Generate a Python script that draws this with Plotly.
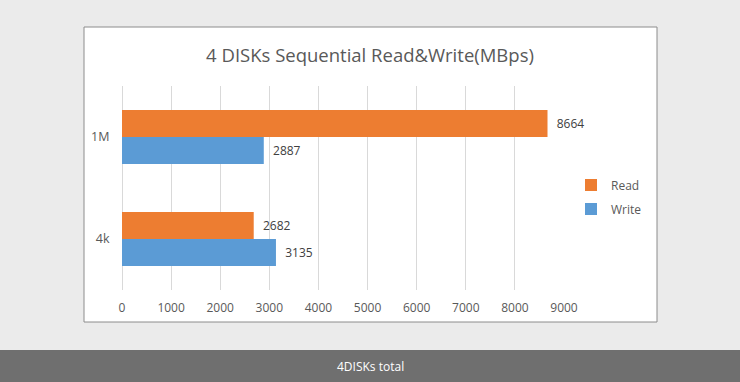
import plotly.graph_objects as go

categories = ["4k", "1M"]
read_values = [2682, 8664]
write_values = [3135, 2887]
x_ticks = [0, 1000, 2000, 3000, 4000, 5000, 6000, 7000, 8000, 9000]
title_text = "4 DISKs Sequential Read&Write(MBps)"
footer_text = "4DISKs total"

W, H = 740, 382
FONT = "Open Sans, Noto Sans, sans-serif"
GREY = "#595959"
PAD = "\u00a0\u00a0"

def px(x):
    return x / W

def py(y):
    return (H - y) / H

fig = go.Figure()
fig.add_trace(go.Bar(
    y=categories, x=write_values, name="Write", orientation="h",
    marker=dict(color="#5B9BD5", line=dict(width=0)),
    text=[PAD + str(v) for v in write_values], textposition="outside",
    textfont=dict(size=12, color="#404040", family=FONT),
    cliponaxis=False, legendrank=2, legendgroup="w",
))
fig.add_trace(go.Bar(
    y=categories, x=read_values, name="Read", orientation="h",
    marker=dict(color="#ED7D31", line=dict(width=0)),
    text=[PAD + str(v) for v in read_values], textposition="outside",
    textfont=dict(size=12, color="#404040", family=FONT),
    cliponaxis=False, legendrank=1, legendgroup="r",
))

shapes = [
    dict(type="rect", xref="paper", yref="paper",
         x0=px(84), x1=px(657), y0=py(322), y1=py(27),
         fillcolor="white", line=dict(color="#8c8c8c", width=1), layer="below"),
    dict(type="rect", xref="paper", yref="paper",
         x0=0, x1=1, y0=0, y1=py(350),
         fillcolor="#6f6f6f", line=dict(width=0), layer="below"),
]

fig.update_layout(
    width=W, height=H, autosize=False,
    margin=dict(l=0, r=0, t=0, b=0, pad=0, autoexpand=False),
    paper_bgcolor="#ebebeb", plot_bgcolor="rgba(0,0,0,0)",
    barmode="group", bargap=0.47, bargroupgap=0,
    shapes=shapes,
    font=dict(family=FONT, color=GREY, size=12),
    title=dict(text=title_text, x=0.5, xanchor="center", xref="paper",
               y=py(56), yanchor="middle", yref="paper",
               font=dict(size=18.5, color=GREY, family=FONT)),
    xaxis=dict(domain=[px(122), px(564)], range=[0, 9000], automargin=False,
               tickvals=x_ticks, ticktext=[str(v) for v in x_ticks],
               showgrid=True, gridcolor="#d9d9d9", gridwidth=1,
               zeroline=True, zerolinecolor="#d9d9d9", zerolinewidth=1,
               showline=False, ticks="outside", ticklen=7,
               tickcolor="rgba(0,0,0,0)",
               tickfont=dict(size=12, color=GREY, family=FONT), fixedrange=True),
    yaxis=dict(domain=[py(290), py(86)], showgrid=False, zeroline=False,
               showline=False, ticks="outside", ticklen=9, automargin=False,
               tickcolor="rgba(0,0,0,0)",
               tickfont=dict(size=12.5, color=GREY, family=FONT), fixedrange=True),
    legend=dict(x=px(571), xanchor="left", y=py(197), yanchor="middle",
                bgcolor="rgba(0,0,0,0)", font=dict(size=12, color=GREY, family=FONT),
                tracegroupgap=5, itemwidth=30),
    showlegend=True,
    annotations=[dict(text=footer_text, x=0.5, y=py(366), xref="paper", yref="paper",
                      xanchor="center", yanchor="middle", showarrow=False,
                      font=dict(size=12, color="white", family=FONT))],
)

fig.write_html(
    "out.html",
    config={"displayModeBar": False, "responsive": False},
    post_script="document.body.style.margin='0';document.body.style.overflow='hidden';",
)
